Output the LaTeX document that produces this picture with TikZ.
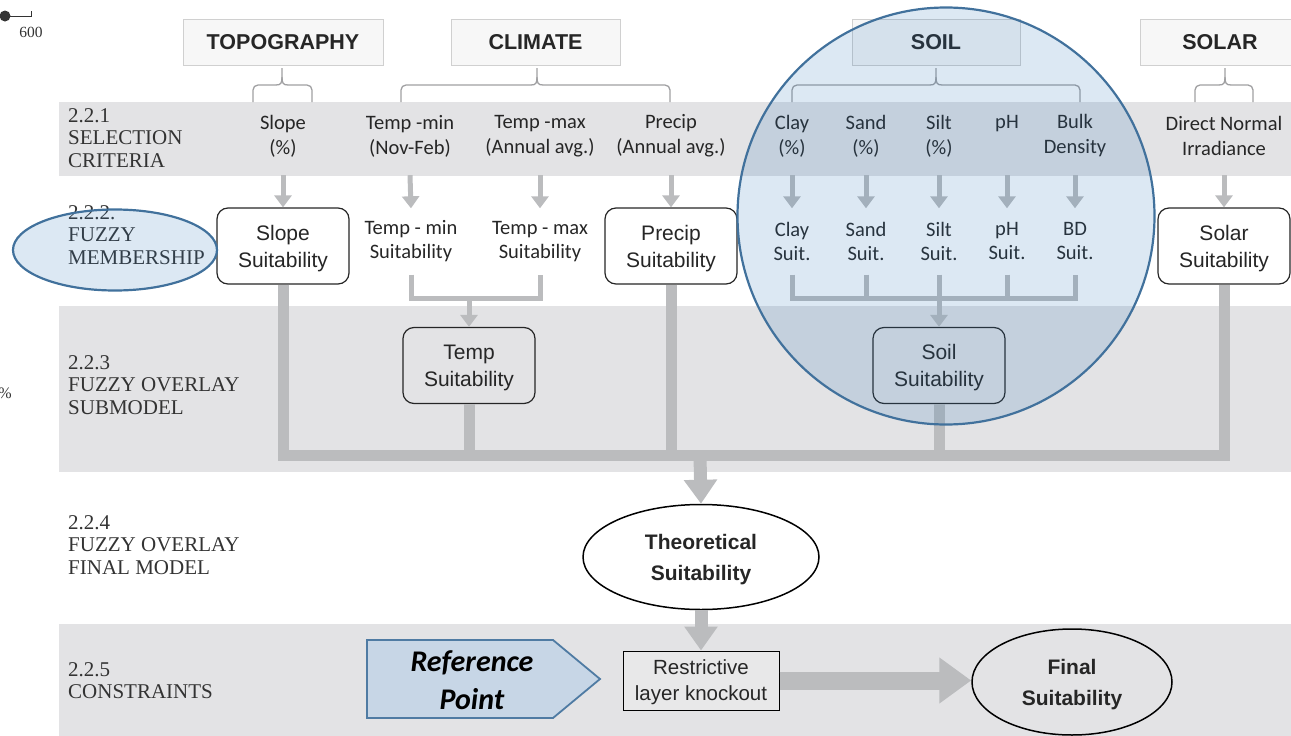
\documentclass[tikz,border=0pt]{standalone}
\usepackage{fontspec}
\setmainfont{Liberation Serif}
\setsansfont{Liberation Sans}
\newfontfamily\calibfont{Carlito}
\usetikzlibrary{arrows.meta,shapes.geometric}

\definecolor{bandgray}{RGB}{227,227,229}
\definecolor{hdrfill}{RGB}{247,247,247}
\definecolor{hdrline}{RGB}{208,208,208}
\definecolor{bracegray}{RGB}{160,160,162}
\definecolor{flowgray}{RGB}{187,188,190}
\definecolor{inkdark}{RGB}{38,38,38}
\definecolor{labelink}{RGB}{51,51,51}
\definecolor{ringblue}{RGB}{46,117,182}
\definecolor{ringline}{RGB}{65,113,156}
\definecolor{refFill}{RGB}{199,214,230}
\definecolor{refLine}{RGB}{79,123,163}
\definecolor{knockfill}{RGB}{232,232,233}

% curly bracket from a group header down to its criteria
\newcommand\groupbrace[3]{%
  \draw[brc] (#2,68) -- (#2,77) .. controls (#2,83) and ({#2-1},85) .. ({#2-6},85);
  \draw[brc] (#2,77) .. controls (#2,83) and ({#2+1},85) .. ({#2+6},85);
  \draw[brc,rounded corners=5pt] ({#2-6},85) -- (#1,85) -- (#1,102);
  \draw[brc,rounded corners=5pt] ({#2+6},85) -- (#3,85) -- (#3,102);
}

\tikzset{
  band/.style={fill=bandgray,draw=none},
  hdr/.style={draw=hdrline,fill=hdrfill,line width=0.8pt,minimum height=46,
    inner sep=0,text=inkdark,font=\sffamily\bfseries\fontsize{21.5}{25}\selectfont},
  brc/.style={draw=bracegray,line width=1.3pt},
  bandlbl/.style={anchor=north west,align=left,inner sep=0,text=labelink,
    font=\fontsize{21}{22.5}\selectfont},
  crit/.style={align=center,inner sep=0,minimum height=78,text=inkdark,
    font=\calibfont\fontsize{20.5}{25}\selectfont},
  memb/.style={align=center,inner sep=0,minimum height=66,text=inkdark,
    font=\calibfont\fontsize{20.5}{24}\selectfont},
  suitbox/.style={draw=inkdark,line width=1.2pt,rounded corners=11pt,
    minimum width=132,minimum height=76,align=center,inner sep=0,text=inkdark,
    text depth=0pt,font=\sffamily\fontsize{21}{27}\selectfont},
  oval/.style={ellipse,draw=black,line width=1.5pt,align=center,
    inner sep=0,text=inkdark,text depth=0pt,
    font=\sffamily\bfseries\fontsize{21}{31}\selectfont},
  knock/.style={draw=black,line width=1pt,fill=knockfill,minimum width=156,
    minimum height=59,align=center,inner sep=0,text=inkdark,text depth=0pt,
    font=\sffamily\fontsize{20.5}{26}\selectfont},
  flowarrow/.style={draw=flowgray,line width=5pt,
    -{Triangle[width=17pt,length=12pt]}},
  feed/.style={draw=flowgray,line width=5pt},
  trunk/.style={draw=flowgray,line width=11pt},
  bigarrow/.style={draw=flowgray,line width=13pt,
    -{Triangle[width=32pt,length=24pt]}},
  fatarrow/.style={draw=flowgray,line width=18pt,
    -{Triangle[width=44pt,length=32pt]}},
  ring/.style={draw=ringline,line width=2.2pt,fill=ringblue,fill opacity=0.17,
    inner sep=0},
  refshape/.style={draw=refLine,line width=1.8pt,fill=refFill},
  reftext/.style={align=center,inner sep=0,text=black,
    font=\calibfont\bfseries\itshape\fontsize{30}{38}\selectfont},
}

\begin{document}
\begin{tikzpicture}[x=1pt,y=-1pt]
\useasboundingbox (0,0) rectangle (1291,736);

% shaded bands
\fill[band] (59,102) rectangle (1291,176);
\fill[band] (59,306) rectangle (1291,472);
\fill[band] (59,624) rectangle (1291,736);

% scale fragment at the top left
\fill[labelink] (5,16) circle (5.5);
\draw[labelink,line width=0.8pt] (5,16) -- (31,16) -- (31,11);
\node[inner sep=0,text=labelink,font=\fontsize{15.5}{18}\selectfont] (scalenum) at (31,32) {600};
\node[inner sep=0,text=labelink,font=\fontsize{16}{18}\selectfont] (pct) at (5,393) {\%};

% band labels
\node[bandlbl] (lab1) at (68,108) {2.2.1\\SELECTION\\CRITERIA};
\node[bandlbl] (lab2) at (68,205) {2.2.2.\\FUZZY\\MEMBERSHIP};
\node[bandlbl] (lab3) at (68,355) {2.2.3\\FUZZY OVERLAY\\SUBMODEL};
\node[bandlbl] (lab4) at (68,515) {2.2.4\\FUZZY OVERLAY\\FINAL MODEL};
\node[bandlbl] (lab5) at (68,662) {2.2.5\\CONSTRAINTS};

% group headers
\node[hdr,minimum width=200] (topo) at (283,42) {TOPOGRAPHY};
\node[hdr,minimum width=169] (clim) at (535.5,42) {CLIMATE};
\node[hdr,minimum width=168] (soilh) at (936,42) {SOIL};
\node[hdr,minimum width=160] (solarh) at (1220,42) {SOLAR};

\groupbrace{253}{282}{312}
\groupbrace{401}{537}{670}
\groupbrace{792}{936}{1080}
\groupbrace{1195}{1225}{1253}

% selection criteria
\node[crit] (slopeA) at (283,136) {Slope\\(\%)};
\node[crit] (tminA) at (410,136) {Temp -min\\(Nov-Feb)};
\node[crit] (tmaxA) at (540,136) {Temp -max\\(Annual avg.)};
\node[crit] (precipA) at (671,136) {Precip\\(Annual avg.)};
\node[crit] (clayA) at (792,136) {Clay\\(\%)};
\node[crit] (sandA) at (866,136) {Sand\\(\%)};
\node[crit] (siltA) at (939,136) {Silt\\(\%)};
\node[crit] (phA) at (1007,136) {pH\\\phantom{(\%)}};
\node[crit] (bdA) at (1075,136) {Bulk\\Density};
\node[crit] (solarA) at (1224,136) {Direct Normal\\Irradiance};

% fuzzy membership
\node[suitbox,fill=white] (slopeB) at (283,246) {Slope\\Suitability};
\node[memb] (tminB) at (411,241.5) {Temp - min\\Suitability};
\node[memb] (tmaxB) at (540,241.5) {Temp - max\\Suitability};
\node[suitbox,fill=white] (precipB) at (671,246) {Precip\\Suitability};
\node[memb] (clayB) at (792,241.5) {Clay\\Suit.};
\node[memb] (sandB) at (866,241.5) {Sand\\Suit.};
\node[memb] (siltB) at (939,241.5) {Silt\\Suit.};
\node[memb] (phB) at (1007,241.5) {pH\\Suit.};
\node[memb] (bdB) at (1075,241.5) {BD\\Suit.};
\node[suitbox,fill=white] (solarB) at (1224,246) {Solar\\Suitability};

\foreach \n in {slope,tmin,tmax,precip,clay,sand,silt,ph,bd,solar}
  \draw[flowarrow] (\n A.south) -- (\n B.north);

% overlay submodels
\node[suitbox] (tempC) at (469,365.5) {Temp\\Suitability};
\node[suitbox] (soilC) at (939,365.5) {Soil\\Suitability};

\coordinate (tjoin) at (469,298);
\coordinate (sjoin) at (939,298);
\draw[feed] (tminB.south) |- (tjoin) -| (tmaxB.south);
\draw[flowarrow] (tjoin) -- (tempC.north);
\draw[feed] (clayB.south) |- (sjoin) -| (bdB.south);
\foreach \n in {sand,silt,ph}
  \draw[feed] (\n B.south) -- (\n B.south |- sjoin);
\draw[flowarrow] (sjoin) -- (soilC.north);

% collecting trunk
\coordinate (trunk) at (700,455);
\draw[trunk] (slopeB.south) |- (trunk) -| (solarB.south);
\draw[trunk] (precipB.south) -- (precipB.south |- trunk);
\draw[trunk] (tempC.south) -- (tempC.south |- trunk);
\draw[trunk] (soilC.south) -- (soilC.south |- trunk);

% final model and constraints
\node[oval,fill=white,minimum width=236,minimum height=105] (theo) at (701,557) {Theoretical\\Suitability};
\draw[bigarrow] (trunk) -- (theo.north);

\node[knock] (knock) at (701,680.5) {Restrictive\\layer knockout};
\draw[bigarrow] (theo.south) -- (knock.north);

\node[oval,minimum width=200,minimum height=106] (final) at (1072,682) {Final\\Suitability};
\draw[fatarrow] (knock.east) -- (knock.east -| final.west);

\draw[refshape] (367,640) -- (553,640) -- (600,679) -- (553,718) -- (367,718) -- cycle;
\node[reftext] (reflbl) at (472,680) {Reference\\Point};

% highlight rings
\node[ring,circle,minimum size=417] (soilring) at (946,216) {};
\node[ring,ellipse,minimum width=204,minimum height=81] (fuzzyring) at (115,250) {};
\end{tikzpicture}
\end{document}
